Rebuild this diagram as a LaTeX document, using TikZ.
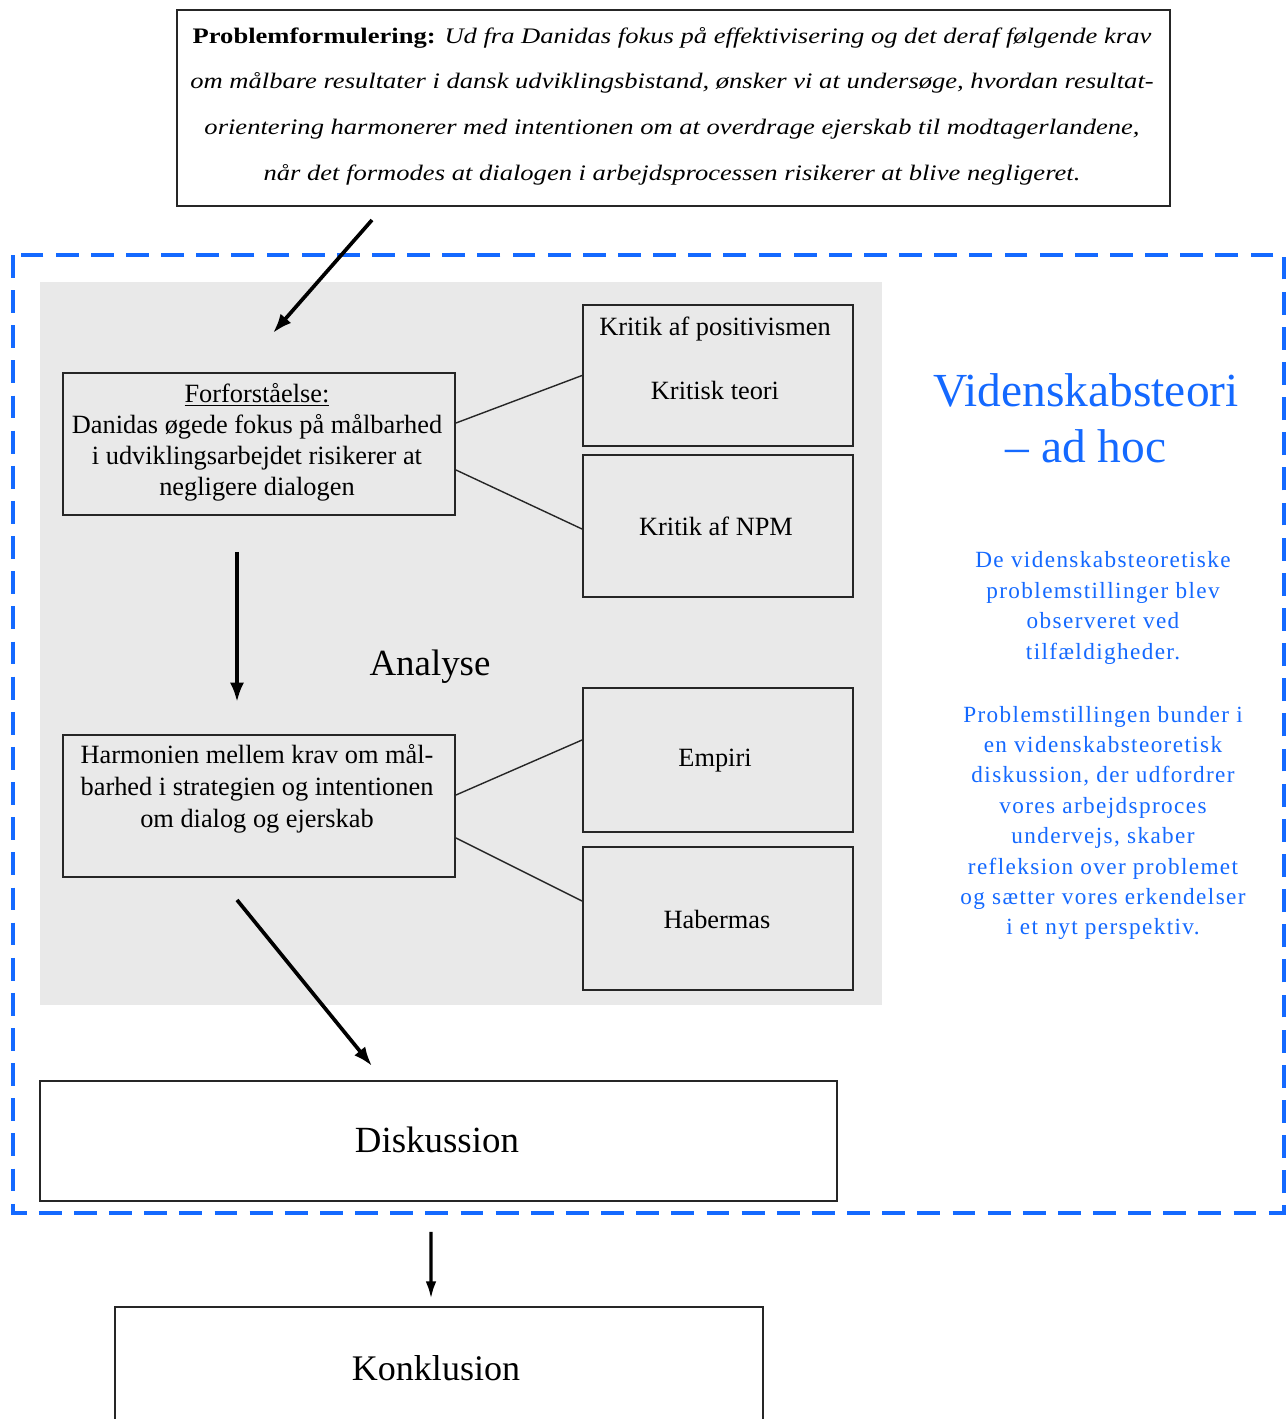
\documentclass[tikz,border=0pt]{standalone}
\usepackage{fontspec}
\setmainfont{Liberation Serif}
\newfontfamily\spacedserif[LetterSpace=6]{Liberation Serif}
\newfontfamily\wideserif[FakeStretch=1.2]{Liberation Serif}
\usetikzlibrary{arrows.meta}
\definecolor{vblue}{RGB}{20,105,255}
\definecolor{panel}{RGB}{233,233,233}
\begin{document}
\begin{tikzpicture}[x=0.02cm,y=-0.02cm,
  box/.style={draw=black!85,line width=1.1pt,inner sep=0pt},
  txt/.style={inner sep=0pt,align=center},
  arr/.style={line width=2.1pt,-{Latex[length=11pt,width=8pt]}},
  conn/.style={line width=0.8pt,black!85}]
\clip (0,0) rectangle (1287,1419);
\fill[white] (0,0) rectangle (1287,1419);
% top box
\node[box,minimum width=993*0.02cm,minimum height=196*0.02cm] (prob) at (673.5,108) {};
\node[txt,font=\wideserif\fontsize{12.6}{26}\selectfont] (probtxt) at (672,106) {\textbf{Problemformulering:} \textit{Ud fra Danidas fokus på effektivisering og det deraf følgende krav}\\
\textit{om målbare resultater i dansk udviklingsbistand, ønsker vi at undersøge, hvordan resultat-}\\
\textit{orientering harmonerer med intentionen om at overdrage ejerskab til modtagerlandene,}\\
\textit{når det formodes at dialogen i arbejdsprocessen risikerer at blive negligeret.}};
% blue dashed frame
\draw[vblue,line width=2.8pt,dash pattern=on 13pt off 7pt] (13,255) rectangle (1284,1213);
% grey panel
\fill[panel] (40,282) rectangle (882,1005);
% boxes
\node[box,minimum width=392*0.02cm,minimum height=142*0.02cm] (forf) at (259,444) {};
\node[txt,font=\fontsize{15}{17.6}\selectfont] at (257,442) {\underline{Forforståelse:}\\Danidas øgede fokus på målbarhed\\i udviklingsarbejdet risikerer at\\negligere dialogen};
\node[box,minimum width=270*0.02cm,minimum height=141*0.02cm] (kp) at (718,375.5) {};
\node[txt,font=\fontsize{15}{16}\selectfont] at (715,329) {Kritik af positivismen};
\node[txt,font=\fontsize{15}{16}\selectfont] at (715,390) {Kritisk teori};
\node[box,minimum width=270*0.02cm,minimum height=142*0.02cm] (npm) at (718,526) {};
\node[txt,font=\fontsize{15}{16}\selectfont] at (716,526) {Kritik af NPM};
\node[txt,font=\fontsize{21}{24}\selectfont] (analyse) at (430,667) {Analyse};
\node[box,minimum width=392*0.02cm,minimum height=142*0.02cm] (harm) at (259,806) {};
\node[txt,font=\fontsize{15}{18.2}\selectfont] at (257,789) {Harmonien mellem krav om mål-\\barhed i strategien og intentionen\\om dialog og ejerskab};
\node[box,minimum width=270*0.02cm,minimum height=144*0.02cm] (emp) at (718,760) {};
\node[txt,font=\fontsize{15}{16}\selectfont] at (715,761) {Empiri};
\node[box,minimum width=270*0.02cm,minimum height=143*0.02cm] (hab) at (718,918.5) {};
\node[txt,font=\fontsize{15}{16}\selectfont] at (717,919) {Habermas};
% Diskussion / Konklusion
\node[box,fill=white,minimum width=797*0.02cm,minimum height=120*0.02cm] (disk) at (438.5,1141) {};
\node[txt,font=\fontsize{21}{24}\selectfont] at (437,1140) {Diskussion};
\node[box,fill=white,minimum width=648*0.02cm,minimum height=160*0.02cm] (konk) at (439,1387) {};
\node[txt,font=\fontsize{20.5}{24}\selectfont] at (436,1368) {Konklusion};
% right blue text
\node[txt,text=vblue,font=\fontsize{27}{32}\selectfont] (vt) at (1086,418) {Videnskabsteori\\– ad hoc};
\node[txt,text=vblue,font=\spacedserif\fontsize{13.2}{17.3}\selectfont] (p1) at (1103,608) {De videnskabsteoretiske\\problemstillinger blev\\observeret ved\\tilfældigheder.};
\node[txt,text=vblue,font=\spacedserif\fontsize{13.2}{17.3}\selectfont] (p2) at (1103,823) {Problemstillingen bunder i\\en videnskabsteoretisk\\diskussion, der udfordrer\\vores arbejdsproces\\undervejs, skaber\\refleksion over problemet\\og sætter vores erkendelser\\i et nyt perspektiv.};
% connectors
\coordinate (a1s) at (372,220);
\coordinate (a1e) at (273,333);
\draw[arr] (a1s) -- (a1e);
\draw[conn] ([yshift=0.42cm]forf.east) -- (kp.west);
\draw[conn] ([yshift=-0.52cm]forf.east) -- ([yshift=-0.06cm]npm.west);
\draw[arr] ([xshift=-0.44cm,yshift=-0.72cm]forf.south) -- ([xshift=-0.44cm,yshift=0.64cm]harm.north);
\draw[conn] ([yshift=0.22cm]harm.east) -- ([yshift=0.4cm]emp.west);
\draw[conn] ([yshift=-0.64cm]harm.east) -- ([yshift=0.35cm]hab.west);
\draw[arr] ([xshift=-0.44cm,yshift=-0.44cm]harm.south) -- ([xshift=-1.33cm,yshift=0.28cm]disk.north);
\draw[line width=1.8pt,-{Latex[length=10pt,width=6pt]}] ([xshift=-0.15cm,yshift=-0.6cm]disk.south) -- ([xshift=-0.16cm,yshift=0.14cm]konk.north);
\end{tikzpicture}
\end{document}
